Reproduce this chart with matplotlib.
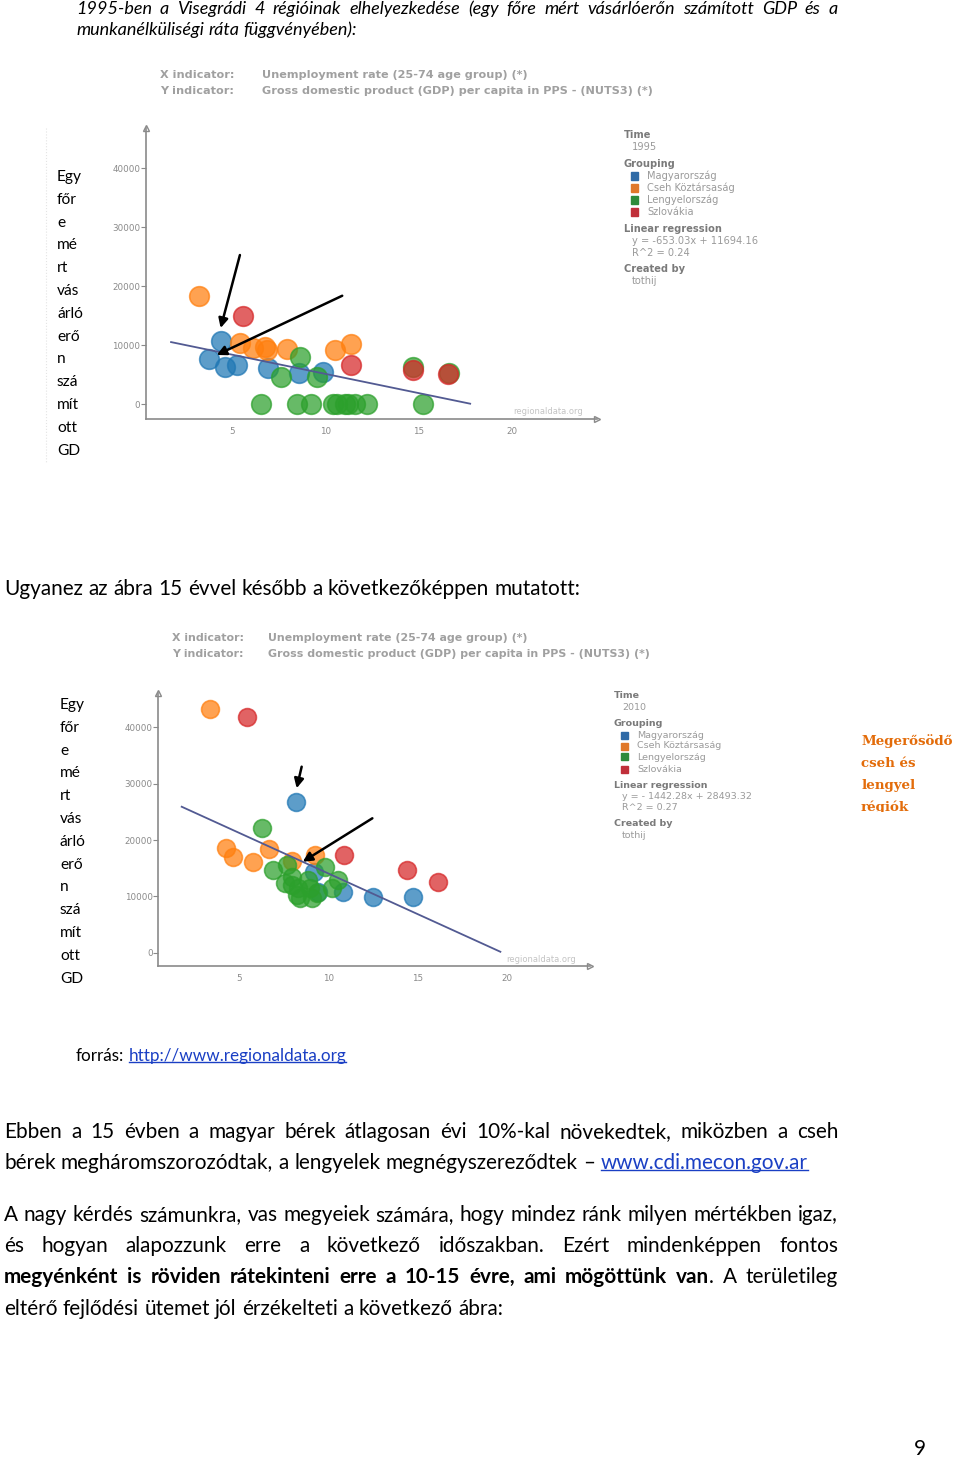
import matplotlib
matplotlib.use("Agg")
import matplotlib.pyplot as plt
from matplotlib.lines import Line2D
from matplotlib.patches import Rectangle

W, H = 960, 1459

# --- data ---
# x: unemployment rate (%), y: GDP per capita in PPS
hu95_x = [4.41, 3.81, 4.64, 5.27, 6.93, 8.62, 9.87]
hu95_y = [10730, 7740, 6380, 6670, 6210, 5250, 5540]
cz95_x = [3.24, 5.45, 6.16, 6.78, 6.87, 7.94, 10.54, 11.36]
cz95_y = [18360, 10450, 9600, 9770, 9200, 9320, 9200, 10230]
pl95_x = [8.65, 7.62, 9.55, 14.68, 16.6, 6.55, 8.48, 9.22, 10.44, 10.65, 11.06, 11.24, 11.6, 12.22, 15.21]
pl95_y = [7970, 4580, 4690, 6270, 5300, 0, 0, 0, 0, 0, 0, 0, 0, 0, 0]
sk95_x = [5.62, 11.36, 14.71, 16.59]
sk95_y = [14970, 6670, 5820, 5140]

hu10_x = [8.20, 10.85, 12.53, 14.72, 9.45, 9.2]
hu10_y = [26690, 10830, 9940, 9940, 10830, 14380]
cz10_x = [3.37, 4.27, 4.68, 5.77, 6.70, 7.95, 9.26]
cz10_y = [43200, 18520, 17040, 16150, 18340, 16270, 17340]
pl10_x = [6.27, 6.89, 7.67, 9.82, 10.57, 10.2, 7.58, 7.95, 8.33, 8.23, 8.42, 8.98, 9.07, 8.89, 7.95, 9.36]
pl10_y = [22190, 14670, 15560, 15270, 12900, 11420, 12310, 13490, 11420, 10240, 9640, 11420, 9640, 12900, 12010, 10530]
sk10_x = [5.47, 10.89, 14.40, 16.14]
sk10_y = [41780, 17340, 14670, 12600]

groups = ["Magyarország", "Cseh Köztársaság", "Lengyelország", "Szlovákia"]
colors = ["#1f77b4", "#ff7f0e", "#2ca02c", "#d62728"]
legend_colors = ["#2f6aa6", "#e0782a", "#2e8b3a", "#c0303a"]

x_ticks = [5, 10, 15, 20]
y_ticks = [0, 10000, 20000, 30000, 40000]

# regression from the chart legends
reg95 = (-653.03, 11694.16)
reg95_x = [1.76, 17.75]
reg10 = (-1442.28, 28493.32)
reg10_x = [1.79, 19.64]

# hand drawn arrows (tail, head) in data units
arrows95 = [((5.44, 25300), (4.41, 12930)), ((10.91, 18400), (4.20, 8360))]
arrows10 = [((8.51, 33020), (8.23, 29190)), ((12.47, 23860), (8.57, 16150))]

col_words = ["Egy", "főr", "e", "mé", "rt", "vás", "árló", "erő", "n", "szá", "mít", "ott", "GD"]

FONT = ["Lato", "DejaVu Sans"]
LINK = "#1a3fc4"
GRAY = "#8a8a8a"

fig = plt.figure(figsize=(9.6, 14.59), dpi=100)
r = fig.canvas.get_renderer()


def fit(s, width, **kw):
    t = fig.text(0, 0, s, fontsize=10, **kw)
    w = t.get_window_extent(r).width
    t.remove()
    return 10 * width / w


def space(size, **kw):
    a = fig.text(0, 0, "a a", fontsize=size, **kw)
    b = fig.text(0, 0, "aa", fontsize=size, **kw)
    s = a.get_window_extent(r).width - b.get_window_extent(r).width
    a.remove()
    b.remove()
    return s


def line(x0, y, words, x1=None, size=12, **kw):
    arts = []
    for w in words:
        parts = [(w, {})] if isinstance(w, str) else w
        ts = [fig.text(0, 1 - y / H, p, va="center", fontsize=size, **{**kw, **ex}) for p, ex in parts]
        arts.append(ts)
    widths = [[t.get_window_extent(r).width for t in ts] for ts in arts]
    tot = sum(sum(ws) for ws in widths)
    gap = space(size, **kw) if x1 is None else (x1 - x0 - tot) / (len(words) - 1)
    x = x0
    for ts, ws in zip(arts, widths):
        for t, w in zip(ts, ws):
            t.set_x(x / W)
            if t.get_gid() == "link":
                bb = t.get_window_extent(r)
                yy = bb.y0 + 0.22 * bb.height - 1.2
                fig.add_artist(Line2D([bb.x0 / W, bb.x1 / W], [yy / H, yy / H],
                                      color=LINK, lw=1, transform=fig.transFigure))
            x += w
        x += gap


def lw_(s):
    return s.split()


body = fit("eltérő fejlődési ütemet jól érzékelteti a következő ábra:", 501, family=FONT)
ital = fit("munkanélküliségi ráta függvényében):", 282, family=FONT, style="italic")
src = fit("forrás: http://www.regionaldata.org", 270, family=FONT)
colsz = fit("árló", 26, family=FONT)
lnk = {"color": LINK, "gid": "link"}
B = {"fontweight": "bold"}

# --- page text ---
line(76, 9, lw_("1995-ben a Visegrádi 4 régióinak elhelyezkedése (egy főre mért vásárlóerőn számított GDP és a"),
     x1=838, size=ital, family=FONT, style="italic")
line(76, 30, lw_("munkanélküliségi ráta függvényében):"), size=ital, family=FONT, style="italic")
line(4, 589, lw_("Ugyanez az ábra 15 évvel később a következőképpen mutatott:"), size=body, family=FONT)
line(76, 1056, ["forrás:", [("http://www.regionaldata.org", lnk)]], size=src, family=FONT)
line(4, 1132, lw_("Ebben a 15 évben a magyar bérek átlagosan évi 10%-kal növekedtek, miközben a cseh"),
     x1=838, size=body, family=FONT)
line(4, 1163, lw_("bérek megháromszorozódtak, a lengyelek megnégyszereződtek –") + [[("www.cdi.mecon.gov.ar", lnk)]],
     size=body, family=FONT)
line(4, 1215, lw_("A nagy kérdés számunkra, vas megyeiek számára, hogy mindez ránk milyen mértékben igaz,"),
     x1=838, size=body, family=FONT)
line(4, 1246, lw_("és hogyan alapozzunk erre a következő időszakban. Ezért mindenképpen fontos"),
     x1=838, size=body, family=FONT)
bold_words = [[(w, B)] for w in lw_("megyénként is röviden rátekinteni erre a 10-15 évre, ami mögöttünk")]
line(4, 1277, bold_words + [[("van", B), (".", {})], "A", "területileg"], x1=838, size=body, family=FONT)
line(4, 1309, lw_("eltérő fejlődési ütemet jól érzékelteti a következő ábra:"), size=body, family=FONT)
fig.text(914 / W, 1 - 1449 / H, "9", fontsize=body, family=FONT, va="center")

# vertical word column left of each chart
for i, w in enumerate(col_words):
    fig.text(57 / W, 1 - (177 + 22.8 * i) / H, w, fontsize=colsz, family=FONT, va="center")
    fig.text(60 / W, 1 - (705 + 22.8 * i) / H, w, fontsize=colsz, family=FONT, va="center")
fig.add_artist(Line2D([46 / W, 46 / W], [1 - 128 / H, 1 - 462 / H], color="#e4e4e4",
                      lw=0.8, ls=":", transform=fig.transFigure))


def header(x0, x1, y, size):
    for dy, lab, txt in [(0, "X indicator:", "Unemployment rate (25-74 age group) (*)"),
                         (15.5, "Y indicator:", "Gross domestic product (GDP) per capita in PPS - (NUTS3) (*)")]:
        fig.text(x0 / W, 1 - (y + dy) / H, lab, fontsize=size, weight="bold", color="#a0a0a0", va="center")
        fig.text(x1 / W, 1 - (y + dy) / H, txt, fontsize=size, weight="bold", color="#a0a0a0", va="center")


header(160, 262, 75, 8.1)
header(172, 268, 638, 7.9)


def legend(x, ys, year, eq, r2, fs):
    def t(dx, y, s, bold=False):
        fig.text((x + dx) / W, 1 - y / H, s, fontsize=fs, va="center",
                 color="#7a7a7a" if bold else "#9a9a9a", weight="bold" if bold else "normal")
    t(0, ys[0], "Time", True)
    t(8, ys[1], year)
    t(0, ys[2], "Grouping", True)
    for i, g in enumerate(groups):
        yy = ys[3 + i]
        fig.add_artist(Rectangle(((x + 7) / W, 1 - (yy + 3.5) / H), 7 / W, 7 / H,
                                 color=legend_colors[i], transform=fig.transFigure))
        t(23, yy, g)
    t(0, ys[7], "Linear regression", True)
    t(8, ys[8], eq)
    t(8, ys[9], r2)
    t(0, ys[10], "Created by", True)
    t(8, ys[11], "tothij")


legend(624, [135, 147, 164, 176, 188, 200, 212, 229, 241, 253, 269, 281],
       "1995", "y = -653.03x + 11694.16", "R^2 = 0.24", 7.1)
legend(614, [696, 707, 723, 735, 746, 757, 769, 785, 796, 807, 823, 835],
       "2010", "y = - 1442.28x + 28493.32", "R^2 = 0.27", 6.8)


def chart(rect, xlim, ylim, series, reg, reg_x, arrows, ms):
    l, t, rgt, b = rect
    ax = fig.add_axes([l / W, 1 - b / H, (rgt - l) / W, (b - t) / H])
    ax.set_xlim(*xlim)
    ax.set_ylim(*ylim)
    for s in ["top", "right"]:
        ax.spines[s].set_visible(False)
    for s in ["left", "bottom"]:
        ax.spines[s].set_color(GRAY)
        ax.spines[s].set_linewidth(1.2)
    ax.plot(1, 0, ">", transform=ax.transAxes, clip_on=False, mfc="white", mec=GRAY, ms=5, mew=1)
    ax.plot(0, 1, "^", transform=ax.transAxes, clip_on=False, mfc="white", mec=GRAY, ms=5, mew=1)
    ax.set_xticks(x_ticks)
    ax.set_yticks(y_ticks)
    ax.tick_params(axis="y", colors=GRAY, labelcolor="#8a8a8a", labelsize=6.3, length=3.5, width=0.8, pad=0.5)
    ax.tick_params(axis="x", colors=GRAY, labelcolor="#8a8a8a", labelsize=6.3, length=0, pad=6)
    for (xs, ys), c in series:
        ax.scatter(xs, ys, s=ms, color=c, alpha=0.72, edgecolors=c, linewidths=1.2, zorder=3)
    m, c0 = reg
    ax.plot(reg_x, [m * v + c0 for v in reg_x], color="#525a92", lw=1.3, zorder=4)
    for tail, head in arrows:
        ax.annotate("", xy=head, xytext=tail, annotation_clip=False, zorder=5,
                    arrowprops=dict(arrowstyle="-|>", color="black", lw=1.8, mutation_scale=14,
                                    shrinkA=0, shrinkB=0))
    ax.text(0.968, 0.025, "regionaldata.org", transform=ax.transAxes, ha="right", va="center",
            fontsize=6, color="#c4c4c4")
    ax.set_facecolor("none")
    return ax


chart((146, 128, 597, 419), (0.42, 24.53), (-2490, 46830),
      [((hu95_x, hu95_y), colors[0]), ((cz95_x, cz95_y), colors[1]),
       ((pl95_x, pl95_y), colors[2]), ((sk95_x, sk95_y), colors[3])],
      reg95, reg95_x, arrows95, 200)
chart((158.3, 693, 590, 966), (0.48, 24.66), (-2360, 46100),
      [((hu10_x, hu10_y), colors[0]), ((cz10_x, cz10_y), colors[1]),
       ((pl10_x, pl10_y), colors[2]), ((sk10_x, sk10_y), colors[3])],
      reg10, reg10_x, arrows10, 165)

# orange side note, bottom line clipped as in the original
nax = fig.add_axes([858 / W, 1 - 812 / H, 102 / W, 84 / H])
nax.axis("off")
osz = fit("Megerősödő", 92, family="DejaVu Serif", weight="bold")
for i, s in enumerate(["Megerősödő", "cseh és", "lengyel", "régiók"]):
    nax.text(3 / 102, (812 - 741 - 22 * i) / 84, s, transform=nax.transAxes, fontsize=osz,
             family="DejaVu Serif", weight="bold", color="#e36c0a", va="center", clip_on=True)

fig.savefig("out.png", dpi=100)
